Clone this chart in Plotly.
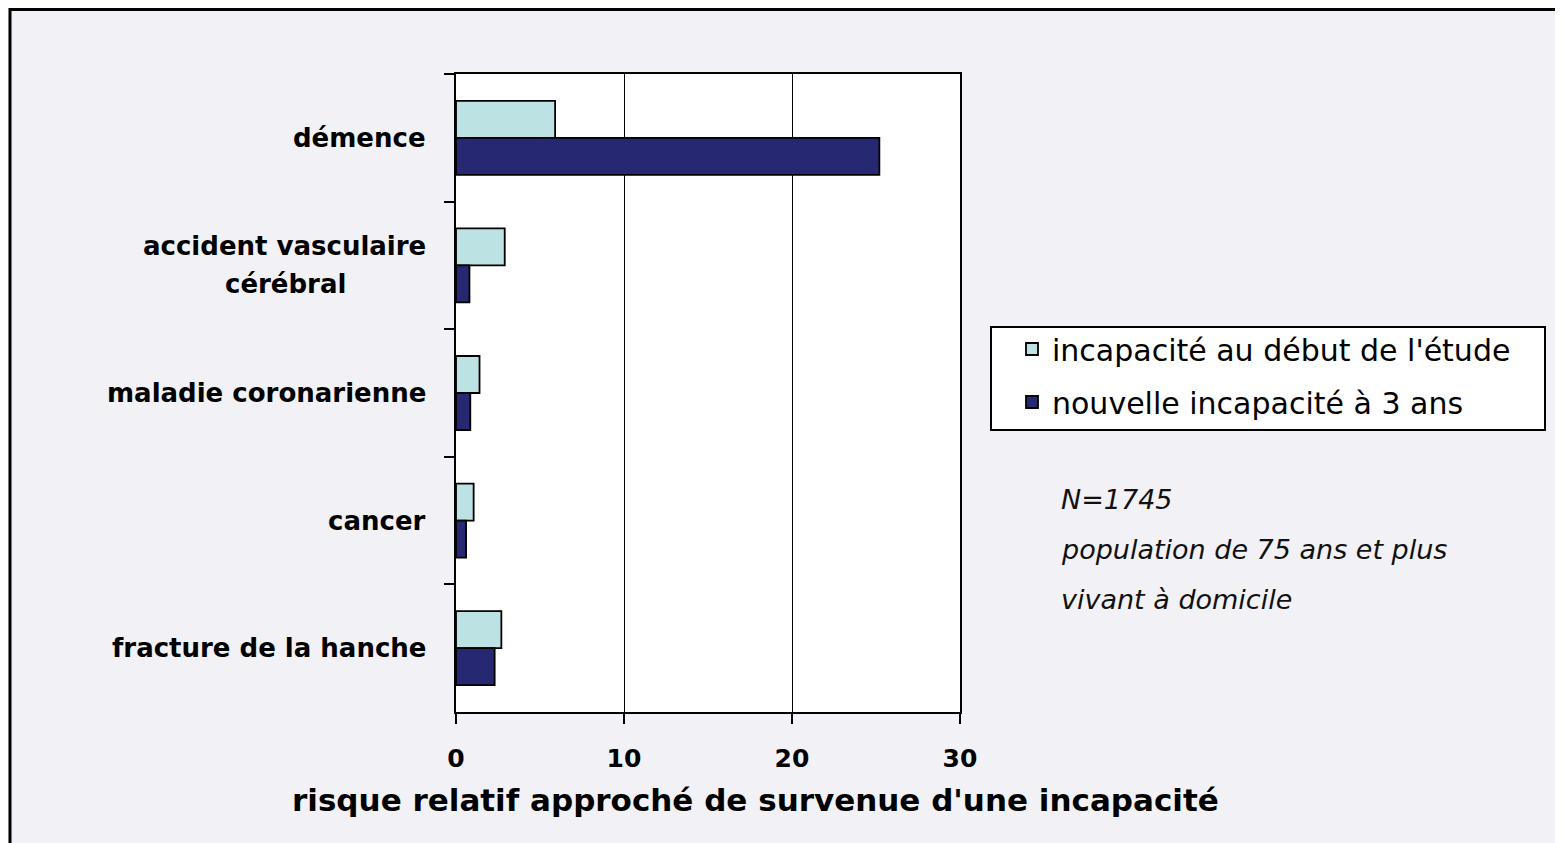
import plotly.graph_objects as go

categories = ["démence", "accident vasculaire cérébral", "maladie coronarienne", "cancer", "fracture de la hanche"]
cat_labels = [["démence"], ["accident vasculaire", "cérébral"], ["maladie coronarienne"], ["cancer"], ["fracture de la hanche"]]
debut_etude = [5.9, 2.9, 1.4, 1.05, 2.7]
nouvelle_3ans = [25.2, 0.8, 0.85, 0.6, 2.3]
series_names = ["incapacité au début de l'étude", "nouvelle incapacité à 3 ans"]
x_ticks = [0, 10, 20, 30]
note_lines = ["N=1745", "population de 75 ans et plus", "vivant à domicile"]
x_title = "risque relatif approché de survenue d'une incapacité"

FONT = "DejaVu Sans"
O = 8  # page body margin offset
W, H = 1563 - O, 843 - O
L, R, T, B = 456 - O, 960 - O, 74 - O, 712 - O
pw, ph = R - L, B - T

def px(xp):
    return (xp - O - L) / pw

def py(yp):
    return (B - (yp - O)) / ph

fig = go.Figure()
fig.add_trace(go.Bar(y=categories, x=debut_etude, orientation="h", name=series_names[0],
                     marker=dict(color="#BDE2E3", line=dict(color="black", width=1.8)),
                     legendgroup="a"))
fig.add_trace(go.Bar(y=categories, x=nouvelle_3ans, orientation="h", name=series_names[1],
                     marker=dict(color="#262872", line=dict(color="black", width=1.8)),
                     legendgroup="b"))

annotations = []
LINE = 38
for c, lines in zip(categories, cat_labels):
    n = len(lines)
    for j, line in enumerate(lines):
        annotations.append(dict(x=px(428), y=c, xref="paper", yref="y", text=line, showarrow=False,
                                xanchor="right" if j == 0 else "center", yanchor="middle",
                                xshift=0 if j == 0 else -143,
                                yshift=((n - 1) / 2 - j) * LINE,
                                font=dict(family=FONT, size=26, color="black", weight="bold")))
annotations.append(dict(x=px(755), y=py(800), xref="paper", yref="paper", text=x_title,
                        showarrow=False, xanchor="center", yanchor="middle",
                        font=dict(family=FONT, size=31, color="black", weight="bold")))
for i, t in enumerate(note_lines):
    annotations.append(dict(x=px(1059), y=py(499 + 50 * i), xref="paper", yref="paper", text=t,
                            showarrow=False, xanchor="left", yanchor="middle",
                            font=dict(family=FONT, size=27, color="#111", style="italic")))

shapes = [
    # outer frame
    dict(type="rect", xref="paper", yref="paper", x0=px(10), x1=px(1700), y0=py(1000), y1=py(9.5),
         line=dict(color="black", width=3), layer="below"),
    # legend box
    dict(type="rect", xref="paper", yref="paper", x0=px(991), x1=px(1545), y0=py(430), y1=py(327),
         line=dict(color="black", width=2), fillcolor="white", layer="above"),
]

fig.update_layout(
    width=W, height=H,
    margin=dict(l=L, r=W - R, t=T, b=H - B),
    paper_bgcolor="#F2F1F6", plot_bgcolor="white",
    barmode="group", bargap=0.42, bargroupgap=0,
    showlegend=True,
    legend=dict(x=px(1012), y=py(323), xanchor="left", yanchor="top",
                bgcolor="rgba(0,0,0,0)", borderwidth=0,
                traceorder="grouped", tracegroupgap=11,
                font=dict(family=FONT, size=30, color="black")),
    xaxis=dict(range=[0, 30], tickvals=x_ticks, showgrid=True, gridcolor="black", gridwidth=1,
               zeroline=False, showline=True, linecolor="black", linewidth=2, mirror=True,
               ticks="outside", ticklen=10, tickcolor="black", tickwidth=2,
               ticklabelstandoff=13,
               tickfont=dict(family=FONT, size=25, color="black", weight="bold")),
    yaxis=dict(categoryorder="array", categoryarray=categories, autorange="reversed",
               showticklabels=False, ticks="outside", tickson="boundaries", ticklen=10,
               tickcolor="black", tickwidth=2, showline=True, linecolor="black", linewidth=2,
               mirror=True, showgrid=False),
    annotations=annotations,
    shapes=shapes,
)

fig.write_html("out.html")
